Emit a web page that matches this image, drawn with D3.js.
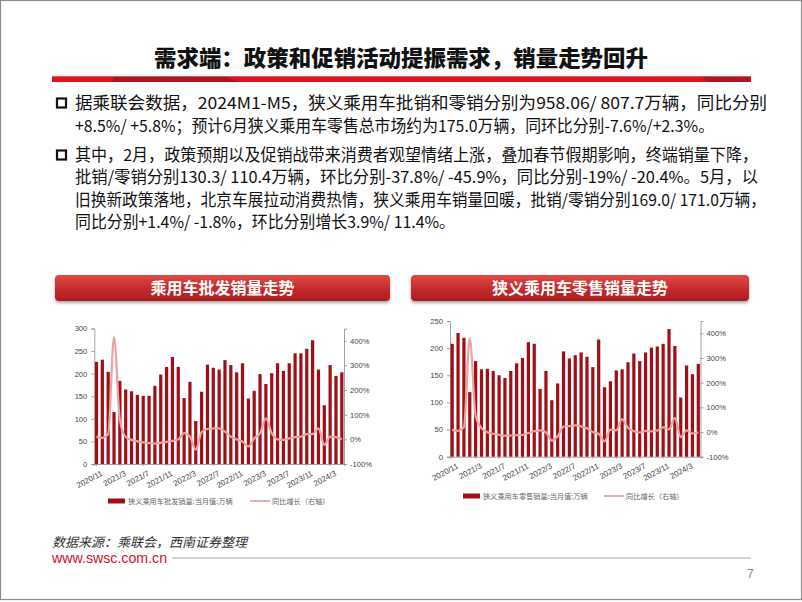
<!DOCTYPE html>
<html><head><meta charset="utf-8">
<script src="https://cdn.jsdelivr.net/npm/d3@7"></script>
<style>
html,body{margin:0;padding:0;background:#fff;}
svg{display:block;}
</style></head>
<body>
<svg id="slide" width="802" height="602"></svg>
<script>
// ---------------- DATA ----------------
const months = ["2020/11","2020/12","2021/1","2021/2","2021/3","2021/4","2021/5","2021/6","2021/7","2021/8","2021/9","2021/10","2021/11","2021/12",
"2022/1","2022/2","2022/3","2022/4","2022/5","2022/6","2022/7","2022/8","2022/9","2022/10","2022/11","2022/12",
"2023/1","2023/2","2023/3","2023/4","2023/5","2023/6","2023/7","2023/8","2023/9","2023/10","2023/11","2023/12",
"2024/1","2024/2","2024/3","2024/4","2024/5"];
const xTickLabels = ["2020/11","2021/3","2021/7","2021/11","2022/3","2022/7","2022/11","2023/3","2023/7","2023/11","2024/3"];
// 狭义乘用车批发销量 (万辆)
const wholesale = [226,231,204,115,184,165,161,153,151,151,173,198,215,237,215,146,182,95,160,220,213,209,230,219,203,223,145,162,199,177,201,223,206,223,245,245,255,274,209,130,219,195,203];
// 批发 同比增长 (%)
const wholesaleYoy = [11,6,21,415,78,10,-2,-8,-12,-15,-17,-13,-10,-6,0,25,11,-42,30,42,45,45,31,11,0,-9,-29,4,25,85,25,0,-2,4,9,11,21,21,45,-22,11,9,0];
// 狭义乘用车零售销量 (万辆)
const retail = [208,228,219,119,176,161,162,158,150,145,158,172,182,211,208,125,158,104,135,194,181,187,192,184,165,216,128,139,159,161,174,190,176,192,201,203,208,235,204,109,168,152,171];
// 零售 同比增长 (%)
const retailYoy = [9,5,20,381,64,16,-1,-7,-11,-15,-14,-13,-12,-4,3,7,-1,-35,-17,22,24,27,23,15,0,-7,-38,10,7,52,17,3,-2,5,3,6,19,11,57,-21,7,-6,-2];
const wholesaleTicks = [0,50,100,150,200,250,300];
const retailTicks = [0,50,100,150,200,250];
const yoyTicks = [-100,0,100,200,300,400];

const titleText = "需求端：政策和促销活动提振需求，销量走势回升";
const bodyLines = [
  "据乘联会数据，2024M1-M5，狭义乘用车批销和零销分别为958.06/  807.7万辆，同比分别",
  "+8.5%/ +5.8%；预计6月狭义乘用车零售总市场约为175.0万辆，同环比分别-7.6%/+2.3%。",
  "其中，2月，政策预期以及促销战带来消费者观望情绪上涨，叠加春节假期影响，终端销量下降，",
  "批销/零销分别130.3/  110.4万辆，环比分别-37.8%/  -45.9%，同比分别-19%/  -20.4%。5月，以",
  "旧换新政策落地，北京车展拉动消费热情，狭义乘用车销量回暖，批销/零销分别169.0/  171.0万辆，",
  "同比分别+1.4%/ -1.8%，环比分别增长3.9%/ 11.4%。"
];
// ---------------- LAYOUT ----------------
const svg = d3.select("#slide");
const CJK = "'Noto Sans CJK SC','Noto Sans',sans-serif";
const LAT = "'Liberation Sans',Arial,sans-serif";
const defs = svg.append("defs");

svg.append("rect").attr("x",0.5).attr("y",0.5).attr("width",801).attr("height",599)
  .attr("fill","#fff").attr("stroke","#8c8c8c").attr("stroke-width",1.2);

// title
svg.append("text").attr("x",154).attr("y",66).attr("textLength",494).attr("lengthAdjust","spacingAndGlyphs")
  .attr("font-family",CJK).attr("font-weight",900).attr("font-size",22).attr("fill","#111").text(titleText);

// red rule
svg.append("rect").attr("x",52).attr("y",76).attr("width",699).attr("height",6).attr("fill","#dc1420");
svg.append("polygon").attr("points","113,76 226,76 238,82 113,82").attr("fill","#a3161c").attr("opacity",0.85);
svg.append("polygon").attr("points","701,76 751,76 751,82 708,82").attr("fill","#a3161c").attr("opacity",0.85);
svg.append("rect").attr("x",52).attr("y",76).attr("width",699).attr("height",1).attr("fill","#f28a8f").attr("opacity",0.6);

// body text
const bodyEnds = [767,714,758,758,766,455];
const bodyBase = [109,132,161,183,206,228];
bodyLines.forEach((t,i)=>{
  svg.append("text").attr("x",75).attr("y",bodyBase[i])
    .attr("textLength",bodyEnds[i]-75).attr("lengthAdjust","spacingAndGlyphs")
    .attr("font-family",CJK).attr("font-size",16.5).attr("fill","#111").text(t);
});
[103,155].forEach(cy=>{
  svg.append("rect").attr("x",57).attr("y",cy-4.5).attr("width",9).attr("height",9)
    .attr("fill","none").attr("stroke","#111").attr("stroke-width",2.2);
});

// banners
const grad = defs.append("linearGradient").attr("id","bn").attr("x1",0).attr("y1",0).attr("x2",0).attr("y2",1);
grad.append("stop").attr("offset","0%").attr("stop-color","#dd4a45");
grad.append("stop").attr("offset","55%").attr("stop-color","#c52a2b");
grad.append("stop").attr("offset","100%").attr("stop-color","#a91c1f");
const flt = defs.append("filter").attr("id","sh").attr("x","-5%").attr("y","-20%").attr("width","110%").attr("height","160%");
flt.append("feDropShadow").attr("dx",0).attr("dy",2).attr("stdDeviation",1.5).attr("flood-color","#000").attr("flood-opacity",0.35);
function banner(x,w,label){
  svg.append("rect").attr("x",x).attr("y",275).attr("width",w).attr("height",26).attr("rx",4)
    .attr("fill","url(#bn)").attr("filter","url(#sh)");
  svg.append("text").attr("x",x+w/2).attr("y",294).attr("text-anchor","middle")
    .attr("font-family",CJK).attr("font-weight",700).attr("font-size",16).attr("fill","#fff").text(label);
}
banner(55,335,"乘用车批发销量走势");
banner(411,338,"狭义乘用车零售销量走势");

// chart drawer
function chart(o){
  const g = svg.append("g");
  const x = d3.scaleBand().domain(months).range([o.x0,o.x1]).paddingInner(0.45).paddingOuter(0.1);
  const yL = d3.scaleLinear().domain([0,o.lmax]).range([o.yb,o.yt]);
  const yR = d3.scaleLinear().domain([-100,450]).range([o.yb,o.yt]);
  const axL = g.append("g").attr("transform",`translate(${o.x0},0)`)
    .call(d3.axisLeft(yL).tickValues(o.lticks).tickSize(3).tickPadding(4));
  const axR = g.append("g").attr("transform",`translate(${o.x1},0)`)
    .call(d3.axisRight(yR).tickValues(yoyTicks).tickSize(3).tickPadding(3).tickFormat(d=>d+"%"));
  [axL,axR].forEach(a=>{
    a.selectAll("path").attr("stroke","#8a8a8a").attr("stroke-width",0.8);
    a.selectAll("line").attr("stroke","#8a8a8a").attr("stroke-width",0.8);
    a.selectAll("text").attr("font-family",LAT).attr("font-size",7.6).attr("fill","#444");
  });
  const axB = g.append("g").attr("transform",`translate(0,${o.yb})`)
    .call(d3.axisBottom(x).tickValues(xTickLabels).tickSize(2).tickFormat(d=>d));
  axB.select("path").attr("stroke","#8a8a8a").attr("stroke-width",0.8);
  axB.selectAll("line").attr("stroke","#8a8a8a").attr("stroke-width",0.8);
  axB.selectAll("text").attr("font-family",LAT).attr("font-size",8).attr("fill","#444")
    .attr("text-anchor","end").attr("transform","translate(3,4) rotate(-28)").attr("dy","0.5em").attr("y",4).attr("x",0);
  g.append("g").selectAll("rect").data(o.bars).join("rect")
    .attr("x",(d,i)=>x(months[i])).attr("width",x.bandwidth())
    .attr("y",d=>yL(d)).attr("height",d=>yL(0)-yL(d)).attr("fill","#a10f16");
  const line = d3.line().x((d,i)=>x(months[i])+x.bandwidth()/2).y(d=>yR(d)).curve(d3.curveMonotoneX);
  g.append("path").datum(o.yoy).attr("d",line).attr("fill","none")
    .attr("stroke","#eba2a2").attr("stroke-width",2.2).attr("stroke-linejoin","round");
  // legend
  const ly = o.ly;
  g.append("rect").attr("x",o.lx).attr("y",ly-2.5).attr("width",17).attr("height",5).attr("fill","#a10f16");
  g.append("text").attr("x",o.lx+20).attr("y",ly+2.6).attr("font-family",CJK).attr("font-size",7.2).attr("fill","#666").text(o.name);
  g.append("line").attr("x1",o.lx2).attr("x2",o.lx2+20).attr("y1",ly).attr("y2",ly).attr("stroke","#eba2a2").attr("stroke-width",1.8);
  g.append("text").attr("x",o.lx2+22).attr("y",ly+2.6).attr("font-family",CJK).attr("font-size",7.2).attr("fill","#666").text("同比增长（右轴）");
}
chart({x0:94.3,x1:344,yt:328.5,yb:464,lmax:300,lticks:wholesaleTicks,bars:wholesale,yoy:wholesaleYoy,
  ly:501,lx:108,lx2:250,name:"狭义乘用车批发销量:当月值:万辆"});
chart({x0:450,x1:700.5,yt:321,yb:456.7,lmax:250,lticks:retailTicks,bars:retail,yoy:retailYoy,
  ly:496,lx:463,lx2:604,name:"狭义乘用车零售销量:当月值:万辆"});

// footer
svg.append("text").attr("x",52).attr("y",547).attr("font-family",CJK).attr("font-style","italic")
  .attr("font-size",13).attr("fill","#333").text("数据来源：乘联会，西南证券整理");
svg.append("text").attr("x",52).attr("y",563).attr("font-family",LAT)
  .attr("font-size",14.2).attr("fill","#d0102a").text("www.swsc.com.cn");
svg.append("line").attr("x1",172).attr("x2",751).attr("y1",558).attr("y2",558).attr("stroke","#c4c4c4").attr("stroke-width",1.3);
svg.append("text").attr("x",747).attr("y",578).attr("font-family",LAT)
  .attr("font-size",12).attr("fill","#888").text("7");
</script>
</body></html>
